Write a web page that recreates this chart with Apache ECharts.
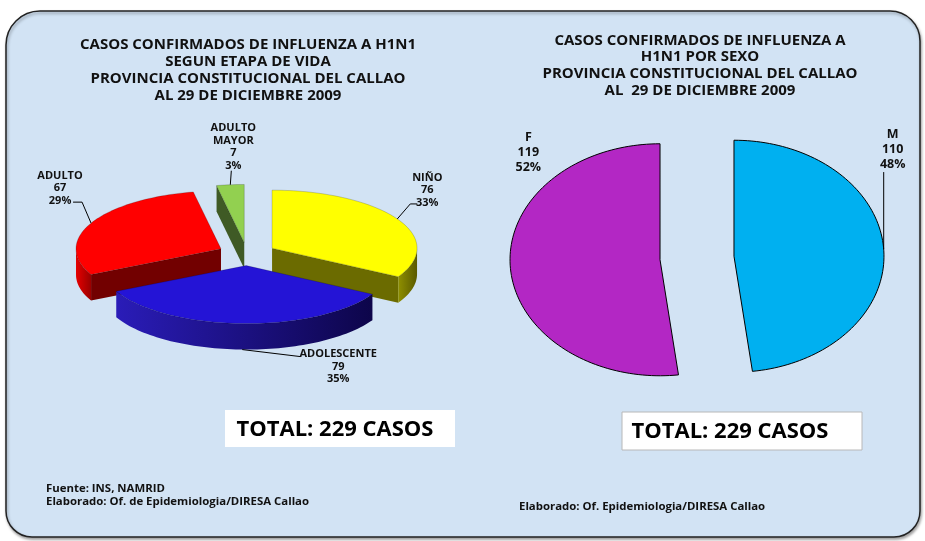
<!DOCTYPE html>
<html>
<head>
<meta charset="utf-8">
<script src="https://cdn.jsdelivr.net/npm/echarts@6/dist/echarts.min.js"></script>
<style>
  html, body { margin: 0; padding: 0; background: #fff; }
  #chart { width: 925px; height: 541px; }
</style>
</head>
<body>
<div id="chart"></div>
<script>
// datos
const etapaNombres = ['NIÑO', 'ADOLESCENTE', 'ADULTO', 'ADULTO\nMAYOR'];
const etapaCasos = [76, 79, 67, 7];
const etapaPct = [33, 35, 29, 3];

const sexoNombres = ['M', 'F'];
const sexoCasos = [110, 119];
const sexoPct = [48, 52];

const totalCasos = 229;

// estilos
const FONT = '"Open Sans", Lato, sans-serif';
const etapaColores = [
  { top: '#ffff00', side: '#6b6b00', wall: '#8f8f00', wall2: '#5a5a00' },
  { top: '#2414d6', side: '#1a0f8a', wall: '#2a1cb8', wall2: '#0d054a' },
  { top: '#ff0000', side: '#720000', wall: '#e60000', wall2: '#9a0000' },
  { top: '#92d050', side: '#3f5a25', wall: '#4f7030', wall2: '#34501d' }
];
const sexoColores = ['#00b0f0', '#b327c4'];

// posicion de etiquetas relativa al punto de anclaje (linea guia y texto)
const etapaEtiquetas = [
  { line: [[13, -15], [20, -15]], text: [30, -29] },
  { line: [[58, 7]], text: [96, 17] },
  { line: [[-9, -21], [-18, -21]], text: [-31, -35] },
  { line: [[1, -14]], text: [3, -38] }
];
const sexoEtiquetas = [
  { line: [[0, -77]], text: [9, -100] },
  { line: null, text: [18, -114] }
];

const TAU = Math.PI * 2;
const DEPTH = 26;

function angulos(values) {
  const total = values.reduce((a, b) => a + b, 0);
  let acc = 0;
  return values.map(v => {
    const a0 = acc / total * TAU;
    acc += v;
    return [a0, acc / total * TAU];
  });
}
const etapaAng = angulos(etapaCasos);
const sexoAng = angulos(sexoCasos);

function geom(api, mid, explode) {
  const c = api.coord([0, 0]);
  const s = api.size([1, 1]);
  return {
    cx: c[0] + Math.sin(mid) * s[0] * explode,
    cy: c[1] - Math.cos(mid) * s[1] * explode,
    rx: s[0], ry: s[1]
  };
}
function pt(g, a, dy) {
  return [g.cx + Math.sin(a) * g.rx, g.cy - Math.cos(a) * g.ry + (dy || 0)];
}
function arco(g, a0, a1, dy) {
  const n = Math.max(2, Math.ceil((a1 - a0) / 0.03));
  const out = [];
  for (let k = 0; k <= n; k++) out.push(pt(g, a0 + (a1 - a0) * k / n, dy));
  return out;
}
function poly(points, fill, z2, stroke, lw) {
  return {
    type: 'polygon', z2: z2,
    shape: { points: points },
    style: { fill: fill, stroke: stroke || null, lineWidth: lw || 0 }
  };
}
function etiqueta(anchor, cfg, text, size, lh, kids) {
  if (cfg.line) {
    const pts = [anchor].concat(cfg.line.map(p => [anchor[0] + p[0], anchor[1] + p[1]]));
    kids.push({
      type: 'polyline', z2: 60, shape: { points: pts },
      style: { stroke: '#000', lineWidth: 1, fill: null }
    });
  }
  kids.push({
    type: 'text', z2: 61,
    style: {
      text: text, x: anchor[0] + cfg.text[0], y: anchor[1] + cfg.text[1],
      textAlign: 'center', textVerticalAlign: 'middle',
      fill: '#111', fontSize: size, fontWeight: 'bold', fontFamily: FONT, lineHeight: lh
    }
  });
}

function renderEtapa(params, api) {
  const i = params.dataIndex;
  const a0 = etapaAng[i][0], a1 = etapaAng[i][1];
  const mid = (a0 + a1) / 2;
  const g = geom(api, mid, 0.2);
  const col = etapaColores[i];
  const z = Math.round((1 - Math.cos(mid)) * 10);
  const c = [g.cx, g.cy];
  const kids = [];
  const wallGrad = {
    type: 'linear', x: 0, y: 0, x2: 1, y2: 0,
    colorStops: [{ offset: 0, color: col.wall }, { offset: 1, color: col.wall2 }]
  };
  if (Math.sin(a0) < -0.01) {
    kids.push(poly([c, pt(g, a0), pt(g, a0, DEPTH), [c[0], c[1] + DEPTH]], col.side, z));
  }
  if (Math.sin(a1) > 0.01) {
    kids.push(poly([c, pt(g, a1), pt(g, a1, DEPTH), [c[0], c[1] + DEPTH]], col.side, z));
  }
  const w0 = Math.max(a0, Math.PI / 2), w1 = Math.min(a1, Math.PI * 1.5);
  if (w1 > w0) {
    const pts = arco(g, w0, w1, 0).concat(arco(g, w0, w1, DEPTH).reverse());
    kids.push(poly(pts, wallGrad, z + 1));
  }
  kids.push(poly([c].concat(arco(g, a0, a1, 0)), col.top, z + 2, 'rgba(0,0,0,0.3)', 0.6));

  const anchor = pt(g, mid, Math.cos(mid) < 0 ? DEPTH : 0);
  etiqueta(anchor, etapaEtiquetas[i],
    etapaNombres[i] + '\n' + etapaCasos[i] + '\n' + etapaPct[i] + '%', 11, 12.5, kids);
  return { type: 'group', children: kids };
}

function renderSexo(params, api) {
  const i = params.dataIndex;
  const a0 = sexoAng[i][0], a1 = sexoAng[i][1];
  const mid = (a0 + a1) / 2;
  const g = geom(api, mid, 0.247);
  const kids = [];
  kids.push(poly([[g.cx, g.cy]].concat(arco(g, a0, a1, 0)), sexoColores[i], 5, '#000', 1));
  etiqueta(pt(g, mid), sexoEtiquetas[i],
    sexoNombres[i] + '\n' + sexoCasos[i] + '\n' + sexoPct[i] + '%', 12.5, 15, kids);
  return { type: 'group', children: kids };
}

function ejeOculto(idx) {
  return { gridIndex: idx, type: 'value', min: -1, max: 1, show: false };
}

function cajaTotal(x, y, w, h, dx, conBorde) {
  return {
    type: 'group', x: x, y: y, z: 5,
    children: [
      { type: 'rect', shape: { x: 0, y: 0, width: w, height: h },
        style: { fill: '#fff', stroke: conBorde ? '#b8b8b8' : null, lineWidth: 1 } },
      { type: 'text', style: {
          text: 'TOTAL: ' + totalCasos + ' CASOS', x: w / 2 + dx, y: h / 2 + 1,
          textAlign: 'center', textVerticalAlign: 'middle',
          fill: '#000', fontSize: 22, fontWeight: 'bold', fontFamily: FONT } }
    ]
  };
}
function nota(text, x, y) {
  return {
    type: 'text', x: x, y: y, z: 5,
    style: { text: text, fill: '#111', fontSize: 11.4, fontWeight: 'bold', fontFamily: FONT,
      textVerticalAlign: 'middle' }
  };
}

const chart = echarts.init(document.getElementById('chart'));
chart.setOption({
  animation: false,
  title: [
    {
      text: 'CASOS CONFIRMADOS DE INFLUENZA A H1N1\nSEGUN ETAPA DE VIDA\nPROVINCIA CONSTITUCIONAL DEL CALLAO\nAL 29 DE DICIEMBRE 2009',
      left: 248, top: 36, textAlign: 'center', padding: 0,
      textStyle: { fontSize: 15, fontWeight: 'bold', fontFamily: FONT, color: '#111', lineHeight: 17 }
    },
    {
      text: 'CASOS CONFIRMADOS DE INFLUENZA A\nH1N1 POR SEXO\nPROVINCIA CONSTITUCIONAL DEL CALLAO\nAL  29 DE DICIEMBRE 2009',
      left: 700, top: 32, textAlign: 'center', padding: 0,
      textStyle: { fontSize: 15, fontWeight: 'bold', fontFamily: FONT, color: '#111', lineHeight: 16.7 }
    }
  ],
  graphic: [
    {
      type: 'rect', z: -10,
      shape: { x: 6, y: 11, width: 914, height: 526, r: [34, 30, 26, 26] },
      style: { fill: '#d2e3f4', stroke: '#222', lineWidth: 1.5,
        shadowBlur: 3, shadowOffsetX: 1, shadowOffsetY: 2, shadowColor: 'rgba(0,0,0,0.35)' }
    },
    cajaTotal(225, 410, 230, 37, -5, false),
    cajaTotal(622, 412, 240, 38, -12, true),
    nota('Fuente: INS, NAMRID', 46, 489),
    nota('Elaborado: Of. de Epidemiologia/DIRESA Callao', 46, 502),
    nota('Elaborado: Of. Epidemiologia/DIRESA Callao', 519, 507)
  ],
  grid: [
    { left: 102, top: 196, width: 290, height: 116 },
    { left: 547, top: 142, width: 300, height: 232 }
  ],
  xAxis: [ejeOculto(0), ejeOculto(1)],
  yAxis: [ejeOculto(0), ejeOculto(1)],
  series: [
    {
      type: 'custom', name: 'Etapa de vida',
      xAxisIndex: 0, yAxisIndex: 0,
      renderItem: renderEtapa,
      data: etapaCasos.map(v => [0, 0, v]),
      encode: { x: 0, y: 1 }
    },
    {
      type: 'custom', name: 'Sexo',
      xAxisIndex: 1, yAxisIndex: 1,
      renderItem: renderSexo,
      data: sexoCasos.map(v => [0, 0, v]),
      encode: { x: 0, y: 1 }
    }
  ]
});
</script>
</body>
</html>
